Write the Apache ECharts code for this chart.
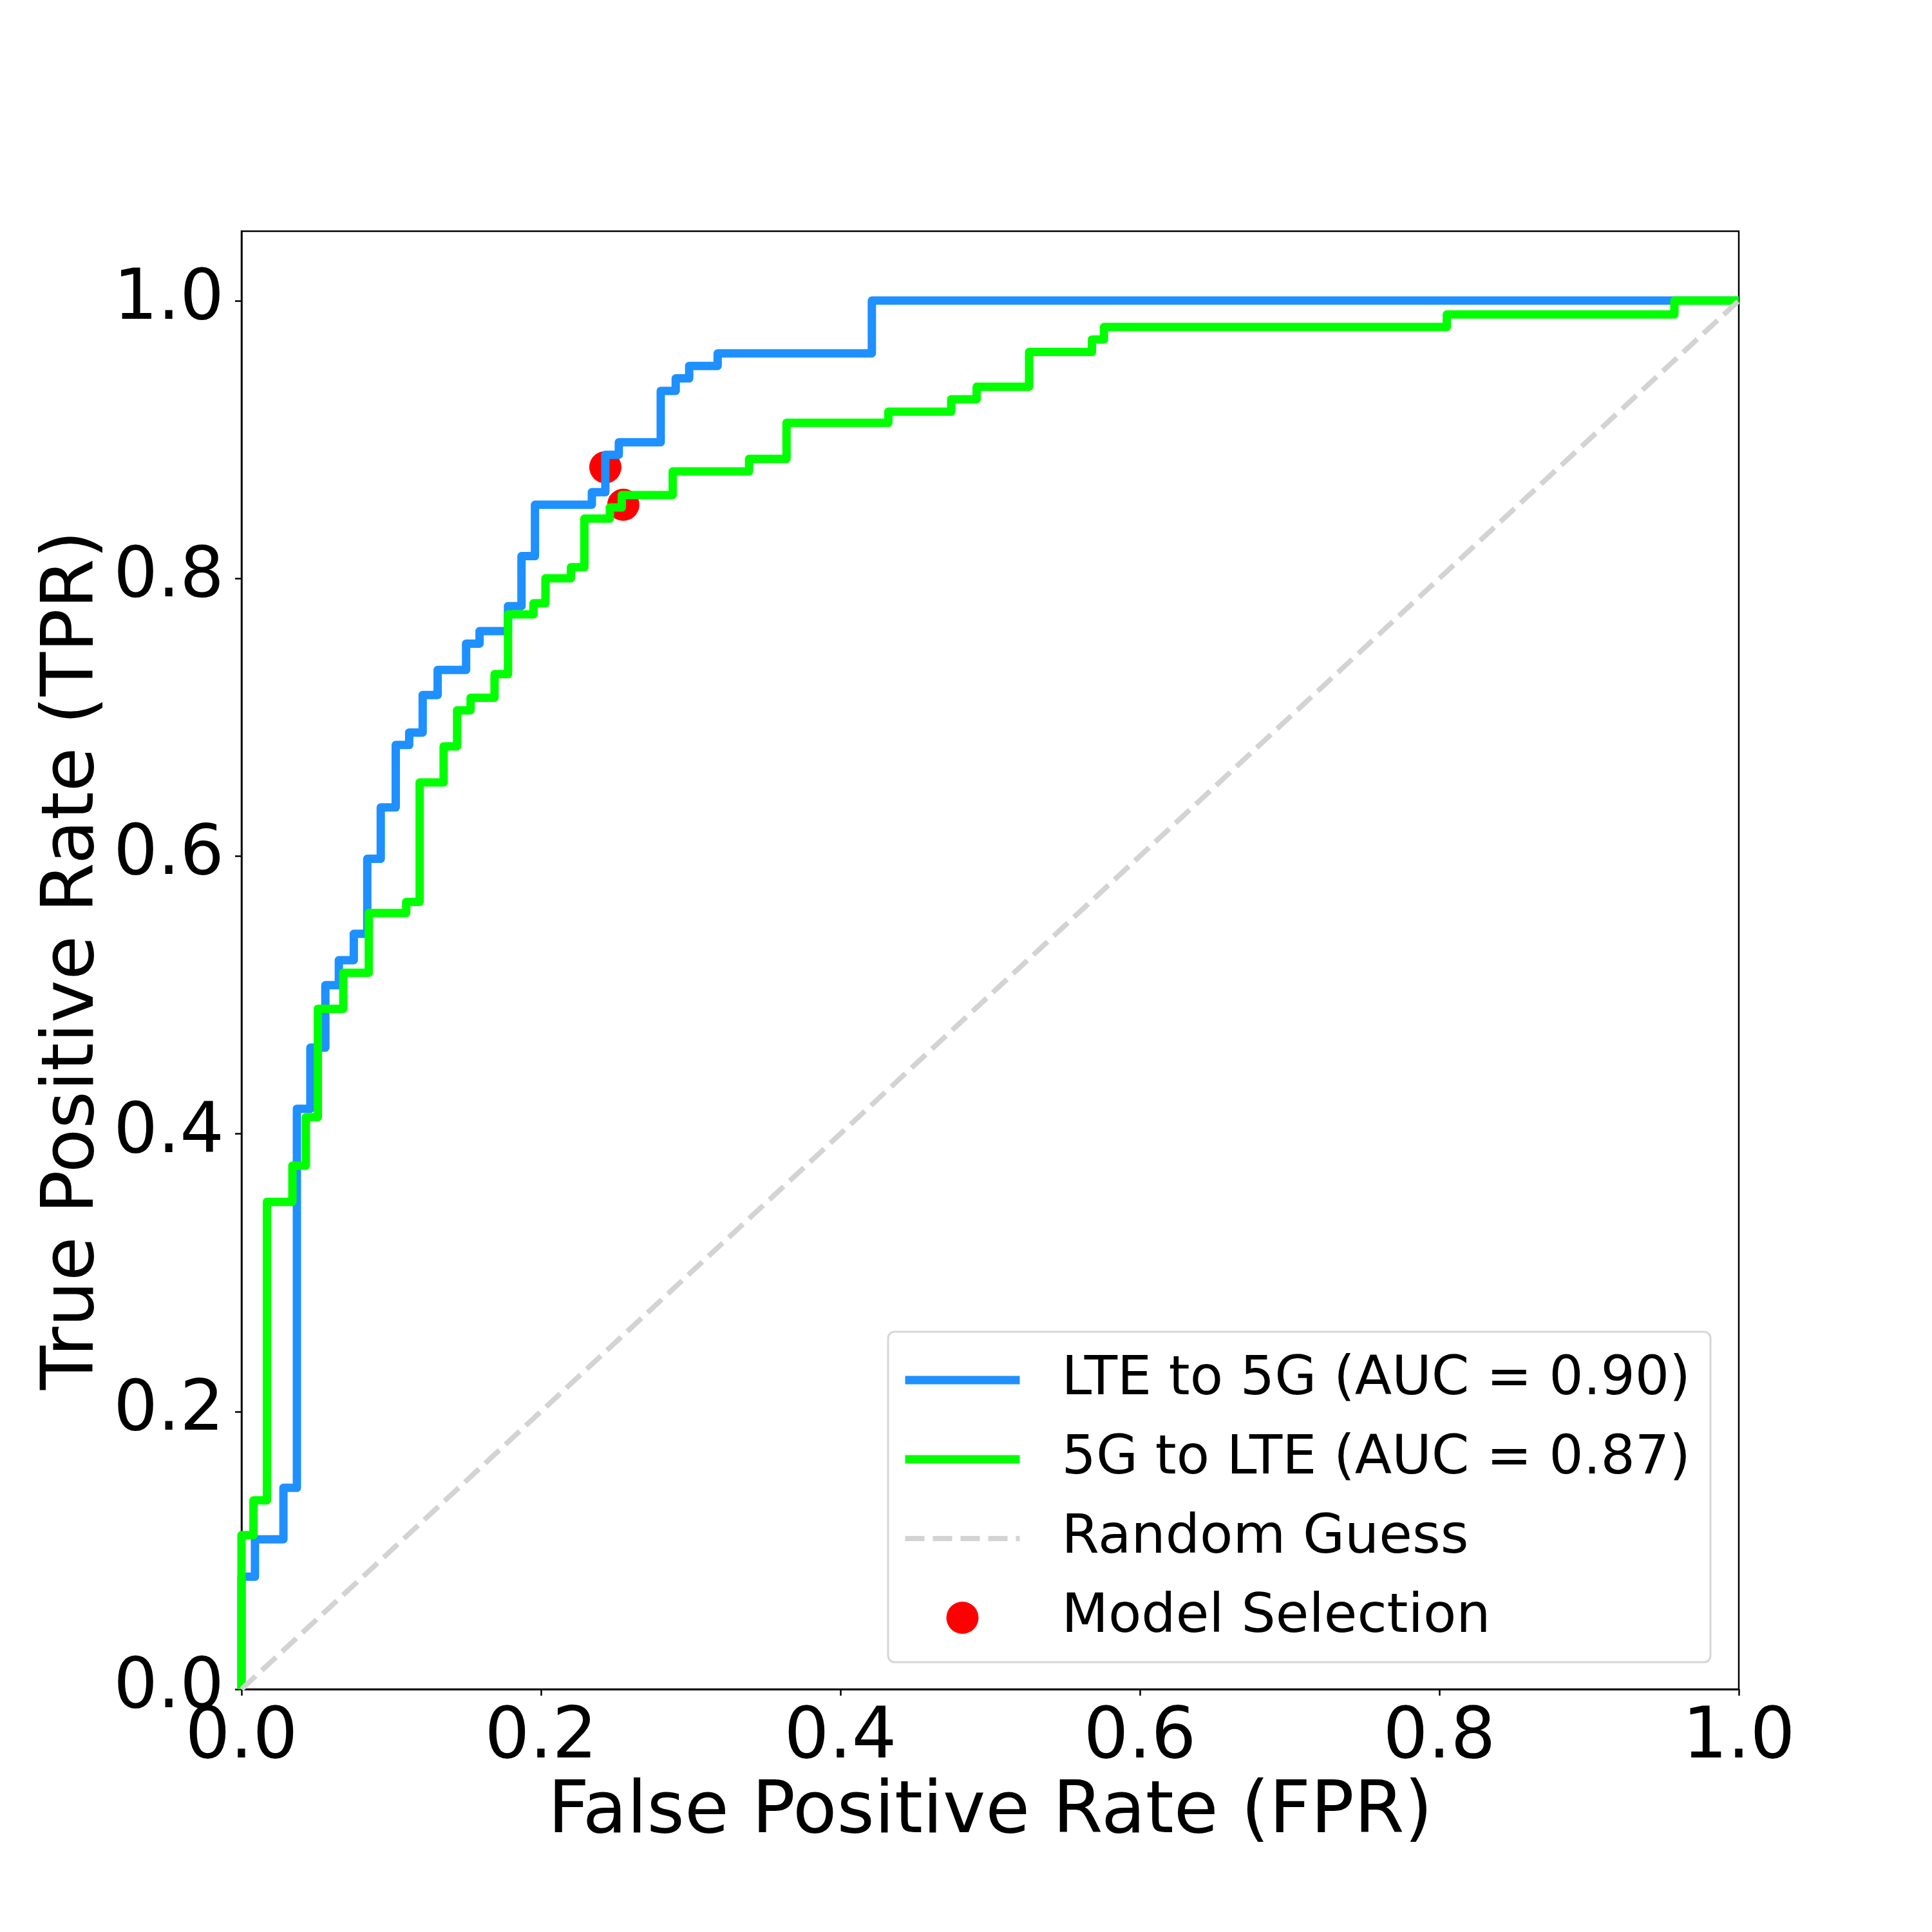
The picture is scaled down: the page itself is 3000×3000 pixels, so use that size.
<!DOCTYPE html>
<html>
<head>
<meta charset="utf-8">
<script src="https://cdn.jsdelivr.net/npm/echarts@6/dist/echarts.min.js"></script>
<style>
  html, body { margin: 0; padding: 0; background: #fff; }
  #chart { width: 3000px; height: 3000px; }
</style>
</head>
<body>
<div id="chart"></div>
<script>
// ROC 曲线数据 (拐点)
var lteFpr = [0, 0, 0.009, 0.009, 0.028, 0.028, 0.037, 0.037, 0.046, 0.046, 0.056, 0.056, 0.065, 0.065, 0.075, 0.075,
  0.084, 0.084, 0.093, 0.093, 0.103, 0.103, 0.112, 0.112, 0.121, 0.121, 0.131, 0.131, 0.150, 0.150, 0.159, 0.159,
  0.178, 0.178, 0.187, 0.187, 0.196, 0.196, 0.234, 0.234, 0.243, 0.243, 0.252, 0.252, 0.280, 0.280, 0.290, 0.290,
  0.299, 0.299, 0.318, 0.318, 0.421, 0.421, 1.0];
var lteTpr = [0, 0.081, 0.081, 0.108, 0.108, 0.145, 0.145, 0.418, 0.418, 0.462, 0.462, 0.507, 0.507, 0.525, 0.525, 0.544,
  0.544, 0.598, 0.598, 0.635, 0.635, 0.680, 0.680, 0.689, 0.689, 0.716, 0.716, 0.734, 0.734, 0.753, 0.753, 0.762,
  0.762, 0.780, 0.780, 0.816, 0.816, 0.853, 0.853, 0.862, 0.862, 0.889, 0.889, 0.898, 0.898, 0.935, 0.935, 0.944,
  0.944, 0.953, 0.953, 0.962, 0.962, 1.0, 1.0];

var nrFpr = [0, 0, 0.008, 0.008, 0.017, 0.017, 0.034, 0.034, 0.043, 0.043, 0.051, 0.051, 0.068, 0.068, 0.085, 0.085,
  0.110, 0.110, 0.119, 0.119, 0.135, 0.135, 0.144, 0.144, 0.153, 0.153, 0.169, 0.169, 0.178, 0.178, 0.195, 0.195,
  0.203, 0.203, 0.220, 0.220, 0.229, 0.229, 0.246, 0.246, 0.254, 0.254, 0.288, 0.288, 0.339, 0.339, 0.364, 0.364,
  0.432, 0.432, 0.474, 0.474, 0.491, 0.491, 0.526, 0.526, 0.568, 0.568, 0.576, 0.576, 0.805, 0.805, 0.957, 0.957, 1.0];
var nrTpr = [0, 0.111, 0.111, 0.136, 0.136, 0.351, 0.351, 0.377, 0.377, 0.412, 0.412, 0.490, 0.490, 0.516, 0.516, 0.559,
  0.559, 0.567, 0.567, 0.653, 0.653, 0.679, 0.679, 0.705, 0.705, 0.714, 0.714, 0.731, 0.731, 0.774, 0.774, 0.782,
  0.782, 0.800, 0.800, 0.808, 0.808, 0.843, 0.843, 0.851, 0.851, 0.860, 0.860, 0.877, 0.877, 0.886, 0.886, 0.912,
  0.912, 0.920, 0.920, 0.929, 0.929, 0.938, 0.938, 0.963, 0.963, 0.972, 0.972, 0.981, 0.981, 0.990, 0.990, 1.0, 1.0];

var guessFpr = [0, 1];
var guessTpr = [0, 1];

// 选中的模型点
var pickFpr = [0.243, 0.255];
var pickTpr = [0.880, 0.853];

var xTicks = [0, 0.2, 0.4, 0.6, 0.8, 1.0];
var yTicks = [0, 0.2, 0.4, 0.6, 0.8, 1.0];

var seriesNames = ["LTE to 5G (AUC = 0.90)", "5G to LTE (AUC = 0.87)", "Random Guess", "Model Selection"];

var FONT = "DejaVu Sans";

function toPairs(xs, ys) {
  var arr = [];
  xs.forEach(function(x, i) {
    arr.push([x, ys[i]]);
  });
  return arr;
}

var chart = echarts.init(document.getElementById("chart"), null, { renderer: "canvas", devicePixelRatio: 1 });

var option = {
  animation: false,
  backgroundColor: "#ffffff",
  grid: {
    left: 375,
    right: 300,
    top: 359,
    bottom: 377,
    show: true,
    borderColor: "#000",
    borderWidth: 2.5,
    backgroundColor: "transparent"
  },
  xAxis: {
    type: "value",
    min: 0,
    max: 1,
    name: "False Positive Rate (FPR)",
    nameLocation: "middle",
    nameGap: 136,
    nameTextStyle: { fontFamily: FONT, fontSize: 112, color: "#000" },
    splitLine: { show: false },
    axisLine: { show: true, lineStyle: { color: "#000", width: 2.5 } },
    axisTick: { show: true, length: 10, lineStyle: { color: "#000", width: 2.5 }, customValues: xTicks },
    axisLabel: {
      customValues: xTicks,
      margin: 22,
      fontFamily: FONT,
      fontSize: 110,
      color: "#000",
      formatter: function(v) { return v.toFixed(1); }
    }
  },
  yAxis: {
    type: "value",
    min: 0,
    max: 1.05,
    name: "True Positive Rate (TPR)",
    nameLocation: "middle",
    nameRotate: 90,
    nameGap: 204,
    nameMoveOverlap: false,
    nameTextStyle: { fontFamily: FONT, fontSize: 112, color: "#000" },
    splitLine: { show: false },
    axisLine: { show: true, lineStyle: { color: "#000", width: 2.5 } },
    axisTick: { show: true, length: 10, lineStyle: { color: "#000", width: 2.5 }, customValues: yTicks },
    axisLabel: {
      customValues: yTicks,
      margin: 27,
      fontFamily: FONT,
      fontSize: 108,
      color: "#000",
      formatter: function(v) { return v.toFixed(1); }
    }
  },
  legend: {
    orient: "vertical",
    left: 1379,
    top: 2068,
    padding: [25, 31, 19, 20],
    itemGap: 23,
    itemWidth: 178,
    itemHeight: 50,
    backgroundColor: "rgba(255,255,255,0.8)",
    borderColor: "#d6d6d6",
    borderWidth: 3,
    borderRadius: 10,
    textStyle: {
      fontFamily: FONT,
      fontSize: 84,
      color: "#000",
      lineHeight: 100,
      padding: [0, 0, 0, 60]
    },
    data: [
      { name: seriesNames[0], lineStyle: { width: 13 }, itemStyle: { opacity: 0 } },
      { name: seriesNames[1], lineStyle: { width: 13 }, itemStyle: { opacity: 0 } },
      { name: seriesNames[2], lineStyle: { width: 8 }, itemStyle: { opacity: 0 } },
      { name: seriesNames[3], itemStyle: { opacity: 1 } }
    ]
  },
  series: [
    {
      name: seriesNames[0],
      type: "line",
      data: toPairs(lteFpr, lteTpr),
      symbol: "none",
      z: 3,
      color: "#1E90FF",
      lineStyle: { color: "#1E90FF", width: 13, join: "round" }
    },
    {
      name: seriesNames[1],
      type: "line",
      data: toPairs(nrFpr, nrTpr),
      symbol: "none",
      z: 4,
      color: "#00FF00",
      lineStyle: { color: "#00FF00", width: 13, join: "round" }
    },
    {
      name: seriesNames[2],
      type: "line",
      data: toPairs(guessFpr, guessTpr),
      symbol: "none",
      z: 5,
      color: "#D3D3D3",
      lineStyle: { color: "#D3D3D3", width: 8, type: [30, 13] }
    },
    {
      name: seriesNames[3],
      type: "scatter",
      data: toPairs(pickFpr, pickTpr),
      symbol: "circle",
      symbolSize: 50,
      z: 2,
      color: "#FF0000",
      itemStyle: { color: "#FF0000", opacity: 1 }
    }
  ]
};

chart.setOption(option);
</script>
</body>
</html>
